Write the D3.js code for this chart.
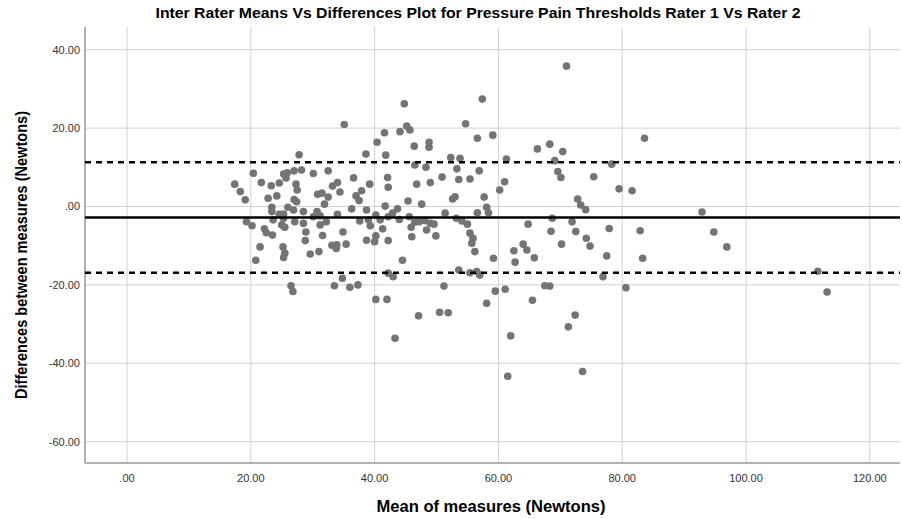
<!DOCTYPE html>
<html><head><meta charset="utf-8">
<script src="https://cdn.jsdelivr.net/npm/d3@7"></script>
<style>body{margin:0;background:#fff}svg{display:block}</style>
</head><body>
<svg id="c" width="902" height="519"></svg>
<script>
const titleText = "Inter Rater Means Vs Differences Plot for Pressure Pain Thresholds Rater 1 Vs Rater 2";
const xTitle = "Mean of measures (Newtons)";
const yTitle = "Differences between measures (Newtons)";
const xTicks = [0, 20, 40, 60, 80, 100, 120];
const yTicks = [-60, -40, -20, 0, 20, 40];
const meanDiff = -2.8;
const upperLoA = 11.3;
const lowerLoA = -16.9;

const means = [17.4,18.3,19.1,19.3,35.1,41.6,40.4,27.8,38.6,41.8,20.4,25.3,25.9,27.0,28.2,30.1,32.5,25.7,36.6,42.1,
21.7,23.3,24.6,27.3,34.0,33.2,39.2,42.2,27.5,30.8,31.5,34.4,37.9,24.2,22.8,27.0,32.5,37.0,27.4,31.9,
37.5,41.7,23.4,26.0,36.3,38.7,23.4,24.6,25.3,26.9,28.5,30.7,34.0,40.2,23.6,25.3,27.1,28.5,30.1,31.2,
32.2,37.6,39.0,40.9,42.2,20.2,25.0,25.5,31.2,39.3,41.3,22.2,22.5,23.5,28.9,31.6,34.9,40.2,38.7,28.8,
40.0,42.2,33.1,33.9,35.4,21.5,25.2,33.8,25.5,29.6,31.0,25.3,20.8,42.2,34.8,26.5,26.8,33.5,36.0,37.3,
40.2,42.0,44.8,57.4,44.1,45.2,45.7,54.7,56.6,59.1,46.4,48.8,48.8,46.5,48.3,52.3,53.8,53.3,56.9,61.3,
46.8,49.0,50.9,53.6,55.4,61.0,60.2,45.4,47.6,52.6,53.0,57.7,58.1,58.4,43.7,42.9,44.0,45.6,51.4,53.2,
54.1,55.0,56.6,64.8,46.5,47.2,48.1,49.0,49.6,45.9,48.4,49.9,46.0,55.4,55.9,55.7,56.2,59.2,62.5,64.0,
64.6,62.7,44.5,43.0,53.6,55.4,56.5,57.0,51.2,59.5,61.1,58.1,65.5,47.1,50.5,51.9,43.3,62.0,61.5,71.0,
83.6,66.3,68.3,70.4,69.1,78.3,69.6,70.1,75.4,79.5,81.6,72.8,73.3,74.1,68.7,71.9,68.5,72.5,77.9,82.9,
74.2,74.8,70.2,65.8,77.5,83.3,76.9,67.5,68.3,80.6,72.4,71.3,73.6,92.9,94.8,96.9,111.6,113.1];

const diffs = [5.7,3.8,1.7,-3.9,20.9,18.8,16.4,13.2,13.4,13.1,8.5,8.3,8.6,9.1,9.3,8.4,9.1,7.3,7.3,7.4,
6.1,5.3,6.0,5.7,6.1,5.2,5.7,4.9,4.2,3.1,3.4,3.7,4.0,2.7,2.1,1.8,2.4,2.7,1.2,0.6,
1.5,0.1,-0.2,-0.2,-0.6,-0.9,-1.3,-2.0,-1.9,-0.9,-1.3,-1.3,-2.0,-2.2,-3.4,-3.0,-3.9,-4.3,-2.6,-2.4,
-3.9,-3.7,-3.4,-3.4,-2.6,-4.9,-4.7,-5.3,-4.7,-4.9,-5.7,-5.7,-6.7,-7.3,-6.5,-7.4,-6.5,-7.5,-8.6,-8.7,
-9.0,-8.7,-9.9,-9.8,-9.6,-10.3,-10.3,-10.7,-11.9,-12.1,-11.5,-13.0,-13.7,-17.0,-18.3,-20.2,-21.7,-20.2,-20.6,-20.0,
-23.7,-23.7,26.2,27.4,19.1,20.5,19.5,21.1,17.4,18.2,15.4,16.4,15.1,10.6,10.0,12.5,12.3,9.6,9.1,12.1,
5.7,6.1,7.5,6.9,7.0,6.3,4.2,1.4,0.6,1.9,2.5,2.4,-0.2,-1.6,-0.6,-1.7,-3.3,-2.6,-1.7,-3.0,
-3.7,-4.5,-1.6,-4.5,-4.0,-3.9,-3.6,-4.3,-4.5,-5.3,-6.0,-7.5,-7.7,-6.8,-8.1,-9.4,-11.5,-13.2,-11.3,-9.6,
-11.1,-14.2,-13.7,-17.9,-16.2,-16.9,-16.6,-17.5,-20.3,-21.6,-21.1,-24.7,-23.9,-27.9,-27.0,-27.1,-33.6,-33.0,-43.3,35.8,
17.4,14.7,15.9,14.0,11.7,10.8,8.9,7.4,7.6,4.5,4.0,1.9,0.4,-0.8,-3.0,-3.9,-6.3,-6.4,-5.6,-6.2,
-8.1,-10.1,-9.6,-13.1,-12.6,-13.2,-17.9,-20.2,-20.3,-20.7,-27.7,-30.7,-42.1,-1.4,-6.5,-10.3,-16.5,-21.8];

const W = 902, H = 519;
const plot = {left: 85, right: 900, top: 27, bottom: 463};
const svg = d3.select("#c");

const x = d3.scaleLinear().domain([0, 100]).range([127, 746]);
const y = d3.scaleLinear().domain([0, 20]).range([206.5, 128.1]);

const font = "'Liberation Sans', Arial, sans-serif";

// grid
svg.append("g").selectAll("line").data(yTicks).join("line")
  .attr("x1", plot.left).attr("x2", plot.right)
  .attr("y1", d => y(d)).attr("y2", d => y(d))
  .attr("stroke", "#d0d0d0").attr("stroke-width", 1);
svg.append("g").selectAll("line").data(xTicks).join("line")
  .attr("y1", plot.top).attr("y2", plot.bottom)
  .attr("x1", d => x(d)).attr("x2", d => x(d))
  .attr("stroke", "#d0d0d0").attr("stroke-width", 1);

// axes frame
svg.append("line").attr("x1", plot.left).attr("x2", plot.left).attr("y1", plot.top).attr("y2", plot.bottom)
  .attr("stroke", "#999").attr("stroke-width", 1.5);
svg.append("line").attr("x1", plot.left).attr("x2", plot.right).attr("y1", plot.bottom).attr("y2", plot.bottom)
  .attr("stroke", "#999").attr("stroke-width", 1.5);

// tick labels (SPSS style: ".00", "-20.00")
const fmt = v => v.toFixed(2).replace(/^(-?)0\./, "$1.");
svg.append("g").selectAll("text").data(yTicks).join("text")
  .attr("x", 80).attr("y", d => y(d)).attr("dy", "0.35em")
  .attr("text-anchor", "end").attr("font-family", font).attr("font-size", 11)
  .attr("fill", "#333").text(fmt);
svg.append("g").selectAll("text").data(xTicks).join("text")
  .attr("x", d => x(d)).attr("y", 478).attr("dy", "0.35em")
  .attr("text-anchor", "middle").attr("font-family", font).attr("font-size", 11)
  .attr("fill", "#333").text(fmt);

// points
const pts = means.map((m, i) => ({m, d: diffs[i]}));
svg.append("g").selectAll("circle").data(pts).join("circle")
  .attr("cx", p => x(p.m)).attr("cy", p => y(p.d)).attr("r", 3.8)
  .attr("fill", "#747474");

// reference lines
svg.append("line").attr("x1", plot.left).attr("x2", plot.right)
  .attr("y1", y(meanDiff)).attr("y2", y(meanDiff))
  .attr("stroke", "#000").attr("stroke-width", 2.5);
[upperLoA, lowerLoA].forEach(v => {
  svg.append("line").attr("x1", plot.left).attr("x2", plot.right)
    .attr("y1", y(v)).attr("y2", y(v))
    .attr("stroke", "#000").attr("stroke-width", 2.5).attr("stroke-dasharray", "6,5");
});

// titles
svg.append("text").attr("x", 478).attr("y", 13).attr("dy", "0.35em")
  .attr("text-anchor", "middle").attr("font-family", font).attr("font-weight", "bold")
  .attr("font-size", 15.5).attr("textLength", 645).attr("lengthAdjust", "spacingAndGlyphs")
  .attr("fill", "#000").text(titleText);
svg.append("text").attr("x", 491).attr("y", 506).attr("dy", "0.35em")
  .attr("text-anchor", "middle").attr("font-family", font).attr("font-weight", "bold")
  .attr("font-size", 16).attr("textLength", 229).attr("lengthAdjust", "spacingAndGlyphs")
  .attr("fill", "#000").text(xTitle);
svg.append("text").attr("transform", "translate(21,255) rotate(-90)").attr("dy", "0.35em")
  .attr("text-anchor", "middle").attr("font-family", font).attr("font-weight", "bold")
  .attr("font-size", 16).attr("textLength", 288).attr("lengthAdjust", "spacingAndGlyphs")
  .attr("fill", "#000").text(yTitle);
</script>
</body></html>
